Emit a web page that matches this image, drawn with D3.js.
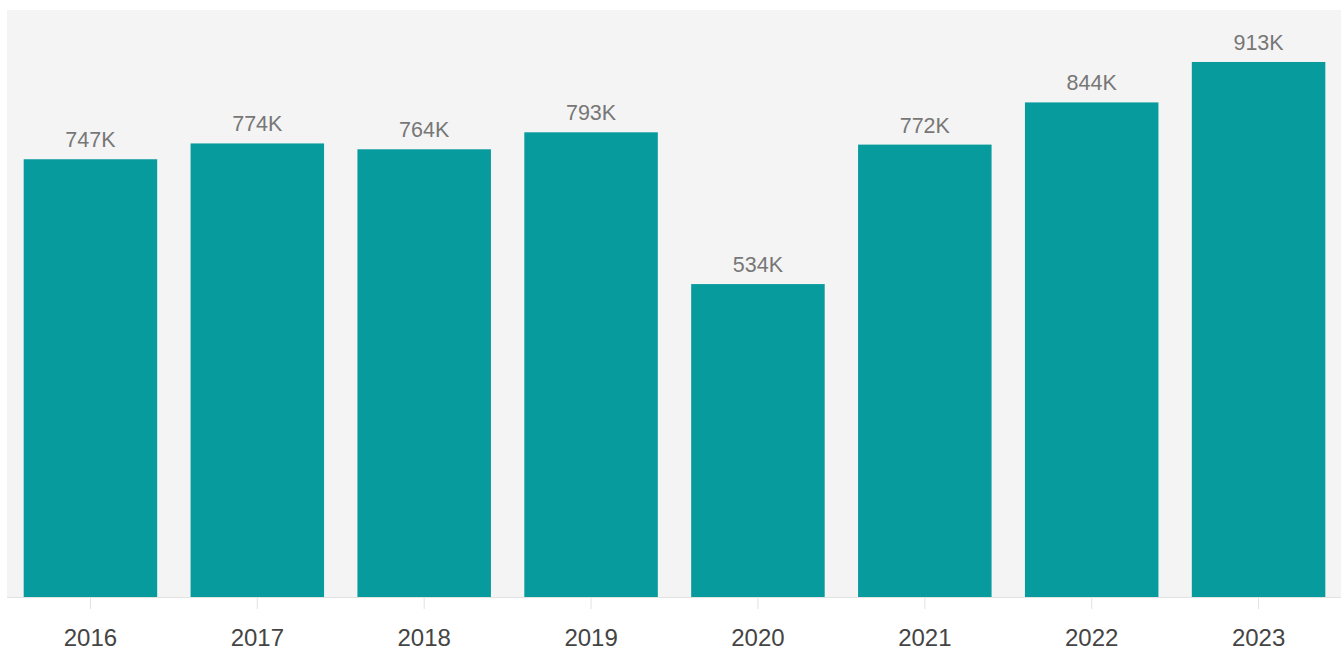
<!DOCTYPE html>
<html>
<head>
<meta charset="utf-8">
<script src="https://cdn.jsdelivr.net/npm/d3@7"></script>
<style>
  html, body { margin: 0; padding: 0; background: #ffffff; }
  svg { display: block; font-family: "Liberation Sans", Arial, sans-serif; }
</style>
</head>
<body>
<svg id="chart" width="1341" height="648"></svg>
<script>
// Yearly totals
const years = ["2016", "2017", "2018", "2019", "2020", "2021", "2022", "2023"];
const totals = [747000, 774000, 764000, 793000, 534000, 772000, 844000, 913000];
const yDomain = [0, 1000000];

const svg = d3.select("#chart");
const plot = { left: 7, right: 1342, top: 10, bottom: 597 };

const x = d3.scaleBand()
  .domain(years)
  .range([plot.left, plot.right])
  .paddingInner(0.2)
  .paddingOuter(0.1);

const y = d3.scaleLinear()
  .domain(yDomain)
  .range([plot.bottom, plot.top + 1]);

// plot background
svg.append("rect")
  .attr("x", plot.left)
  .attr("y", plot.top)
  .attr("width", 1341 - plot.left)
  .attr("height", plot.bottom - plot.top)
  .attr("fill", "#f4f4f4");

const data = years.map((yr, i) => ({ year: yr, value: totals[i] }));

// bars
svg.append("g").selectAll("rect")
  .data(data)
  .join("rect")
  .attr("x", d => x(d.year))
  .attr("y", d => y(d.value))
  .attr("width", x.bandwidth())
  .attr("height", d => y(0) - y(d.value))
  .attr("fill", "#079b9e");

// value labels
const fmt = v => Math.round(v / 1000) + "K";
svg.append("g").selectAll("text")
  .data(data)
  .join("text")
  .attr("x", d => x(d.year) + x.bandwidth() / 2)
  .attr("y", d => y(d.value) - 12)
  .attr("text-anchor", "middle")
  .attr("font-size", 21.5)
  .attr("fill", "#777777")
  .text(d => fmt(d.value));

// x axis
const xAxis = svg.append("g")
  .attr("transform", `translate(0,${plot.bottom})`)
  .call(d3.axisBottom(x).tickSize(12).tickPadding(20).tickSizeOuter(0));

xAxis.select(".domain")
  .attr("stroke", "#e2e2e2")
  .attr("d", `M${plot.left},0.5H1341`);
xAxis.selectAll(".tick line").attr("stroke", "#e2e2e2");
xAxis.selectAll(".tick text")
  .attr("font-size", 24)
  .attr("fill", "#444444")
  .attr("font-family", "\"Liberation Sans\", Arial, sans-serif");
</script>
</body>
</html>
